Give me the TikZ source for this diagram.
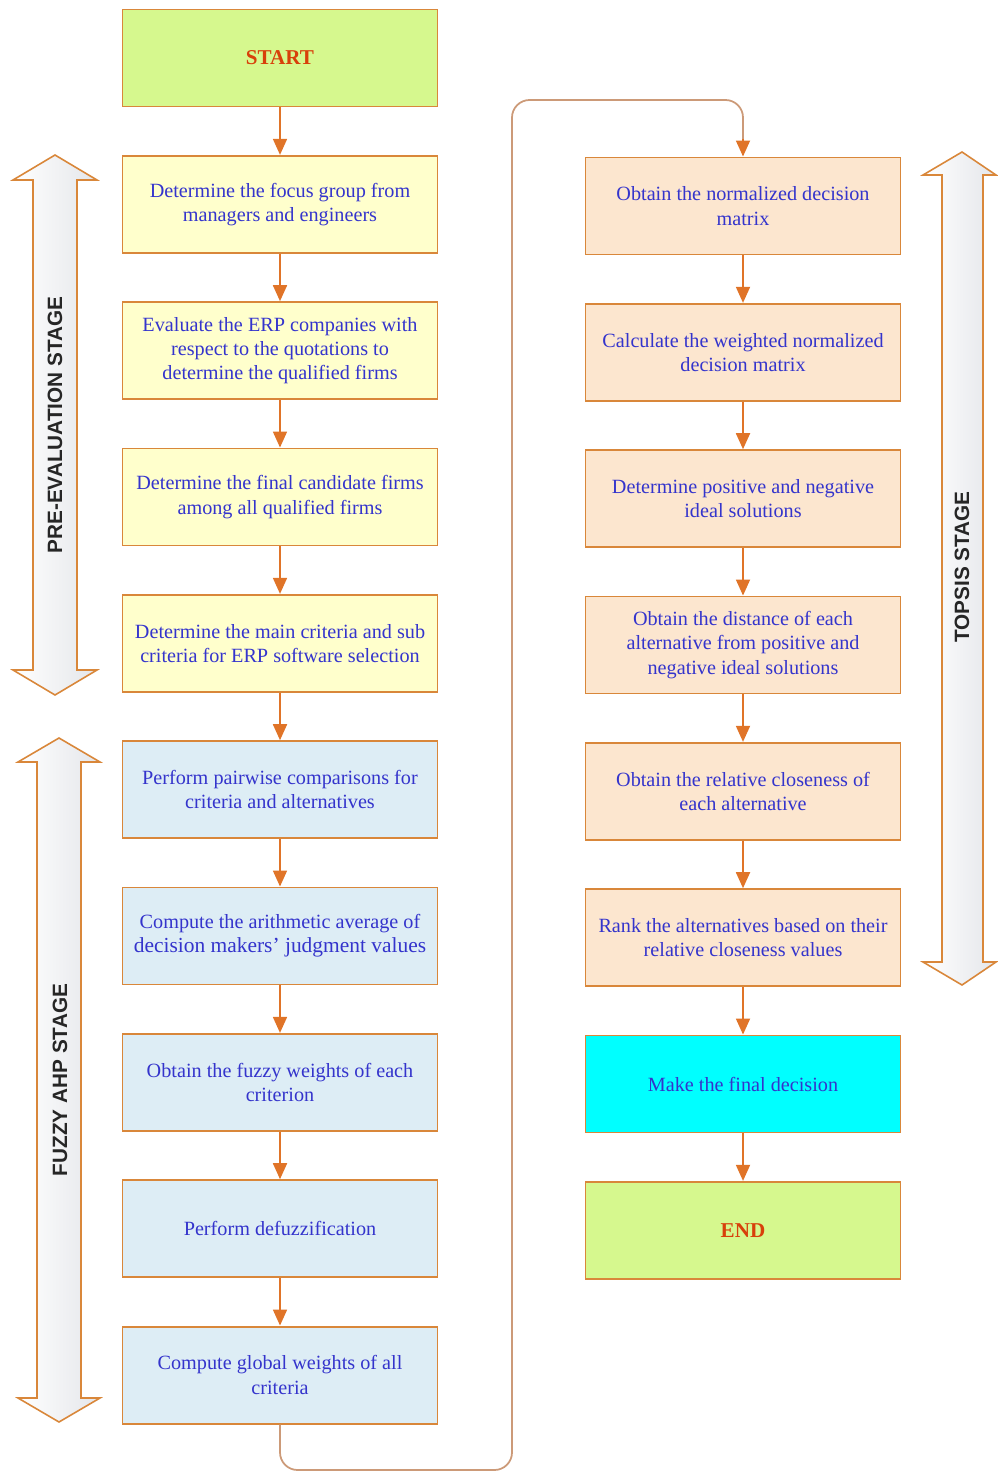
\documentclass[tikz,border=0pt]{standalone}
\usepackage{fontspec}
\setmainfont{Liberation Serif}
\setsansfont{Liberation Sans}
\usepackage{tikz}
\usetikzlibrary{arrows.meta,positioning,calc}
\definecolor{FlowEdge}{HTML}{D9873A}
\definecolor{FlowArrow}{HTML}{E07428}
\definecolor{FlowLink}{HTML}{CC9A78}
\definecolor{FlowText}{HTML}{3434CC}
\definecolor{FlowRed}{HTML}{D8400A}
\definecolor{FlowLime}{HTML}{D6F88E}
\definecolor{FlowYellow}{HTML}{FFFFCC}
\definecolor{FlowBlue}{HTML}{DDEDF5}
\definecolor{FlowPeach}{HTML}{FCE6CF}
\definecolor{FlowCyan}{HTML}{00FFFF}
\definecolor{FlowShaft}{HTML}{E4E6EA}

\begin{document}
\begin{tikzpicture}[x=0.2mm,y=-0.2mm,
  stepbox/.style={draw=FlowEdge,line width=1.1pt,minimum width=63mm,minimum height=19.4mm,
    align=center,text=FlowText,font=\fontsize{11.5}{13.8}\selectfont,inner sep=2pt},
  endbox/.style={stepbox,fill=FlowLime,text=FlowRed,font=\fontsize{12}{14}\selectfont\bfseries},
  flow/.style={-{Triangle[length=3.2mm,width=2.8mm]},FlowArrow,line width=1pt},
  stagearrow/.style={draw=FlowEdge,line width=0.9pt,left color=white,right color=FlowShaft},
  stagelabel/.style={rotate=90,font=\sffamily\bfseries\fontsize{11.8}{13}\selectfont,text=black!85},
  node distance=9.48mm]
\useasboundingbox (0,0) rectangle (997,1473);

% left column
\node[endbox] (start) at (280,58) {START};
\node[stepbox,fill=FlowYellow,below=of start] (focus) {Determine the focus group from\\managers and engineers};
\node[stepbox,fill=FlowYellow,below=of focus] (evaluate) {Evaluate the ERP companies with\\respect to the quotations to\\determine the qualified firms};
\node[stepbox,fill=FlowYellow,below=of evaluate] (final) {Determine the final candidate firms\\among all qualified firms};
\node[stepbox,fill=FlowYellow,below=of final] (criteria) {Determine the main criteria and sub\\criteria for ERP software selection};
\node[stepbox,fill=FlowBlue,below=of criteria] (pairwise) {Perform pairwise comparisons for\\criteria and alternatives};
\node[stepbox,fill=FlowBlue,below=of pairwise] (average) {Compute the arithmetic average of\\{\fontsize{12.2}{14}\selectfont decision makers' judgment values}};
\node[stepbox,fill=FlowBlue,below=of average] (fuzzy) {Obtain the fuzzy weights of each\\criterion};
\node[stepbox,fill=FlowBlue,below=of fuzzy] (defuzz) {Perform defuzzification};
\node[stepbox,fill=FlowBlue,below=of defuzz] (global) {Compute global weights of all\\criteria};

% right column
\node[stepbox,fill=FlowPeach] (normal) at (743,206) {Obtain the normalized decision\\matrix};
\node[stepbox,fill=FlowPeach,below=of normal] (weighted) {Calculate the weighted normalized\\decision matrix};
\node[stepbox,fill=FlowPeach,below=of weighted] (ideal) {Determine positive and negative\\ideal solutions};
\node[stepbox,fill=FlowPeach,below=of ideal] (distance) {Obtain the distance of each\\alternative from positive and\\negative ideal solutions};
\node[stepbox,fill=FlowPeach,below=of distance] (closeness) {Obtain the relative closeness of\\each alternative};
\node[stepbox,fill=FlowPeach,below=of closeness] (rank) {Rank the alternatives based on their\\relative closeness values};
\node[stepbox,fill=FlowCyan,below=of rank] (decision) {Make the final decision};
\node[endbox,below=of decision] (end) {END};

% connectors
\foreach \a/\b in {start/focus,focus/evaluate,evaluate/final,final/criteria,criteria/pairwise,
  pairwise/average,average/fuzzy,fuzzy/defuzz,defuzz/global,
  normal/weighted,weighted/ideal,ideal/distance,distance/closeness,closeness/rank,rank/decision,decision/end}
  \draw[flow] (\a) -- (\b);
\coordinate (linkA) at (512,1470);
\coordinate (linkB) at (512,100);
\draw[FlowLink,line width=1pt,rounded corners=10pt] (global.south) -- (global.south |- linkA) -- (linkA) -- (linkB) -- (normal.north |- linkB) -- ($(normal.north)+(0,-16)$);
\draw[flow] ($(normal.north)+(0,-18)$) -- (normal.north);

% stage arrows
\path[stagearrow] (55,155) -- (97,180) -- (77,180) -- (77,670) -- (97,670) -- (55,695)
  -- (13,670) -- (33,670) -- (33,180) -- (13,180) -- cycle;
\node[stagelabel] (pre) at (55,425) {PRE-EVALUATION STAGE};
\path[stagearrow] (59,738) -- (100,762) -- (81,762) -- (81,1398) -- (100,1398) -- (59,1422)
  -- (18,1398) -- (37,1398) -- (37,762) -- (18,762) -- cycle;
\node[stagelabel] (ahp) at (60,1080) {FUZZY AHP STAGE};
\path[stagearrow] (962,152) -- (996,175) -- (983,175) -- (983,962) -- (996,962) -- (962,985)
  -- (923,962) -- (942,962) -- (942,175) -- (923,175) -- cycle;
\node[stagelabel] (topsis) at (962,567) {TOPSIS STAGE};
\end{tikzpicture}
\end{document}
